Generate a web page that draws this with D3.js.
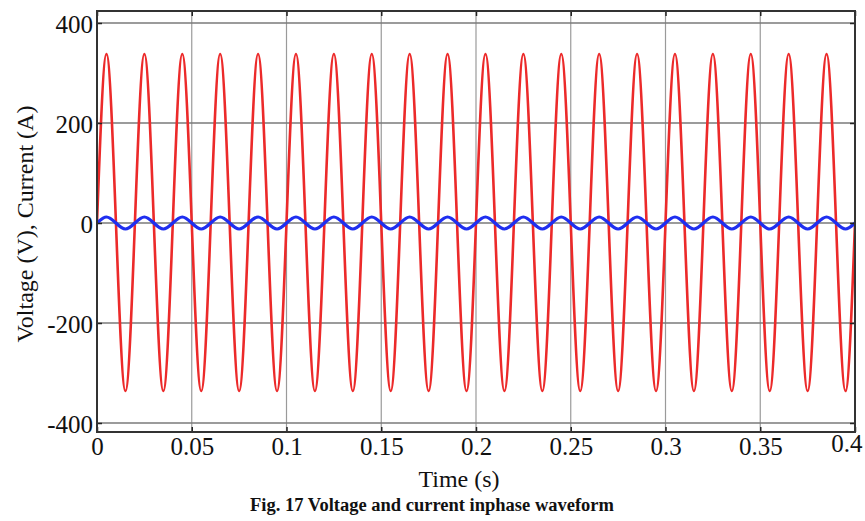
<!DOCTYPE html>
<html>
<head>
<meta charset="utf-8">
<script src="https://cdn.jsdelivr.net/npm/d3@7"></script>
<style>
  body { margin: 0; background: #fff; }
  text { font-family: "Liberation Serif", "Times New Roman", serif; fill: #111; }
</style>
</head>
<body>
<div class="chart"></div>
<script>
// samples at every quarter period (50 Hz)
const time = [
  0, 0.005, 0.01, 0.015, 0.02, 0.025, 0.03, 0.035, 0.04, 0.045,
  0.05, 0.055, 0.06, 0.065, 0.07, 0.075, 0.08, 0.085, 0.09, 0.095,
  0.1, 0.105, 0.11, 0.115, 0.12, 0.125, 0.13, 0.135, 0.14, 0.145,
  0.15, 0.155, 0.16, 0.165, 0.17, 0.175, 0.18, 0.185, 0.19, 0.195,
  0.2, 0.205, 0.21, 0.215, 0.22, 0.225, 0.23, 0.235, 0.24, 0.245,
  0.25, 0.255, 0.26, 0.265, 0.27, 0.275, 0.28, 0.285, 0.29, 0.295,
  0.3, 0.305, 0.31, 0.315, 0.32, 0.325, 0.33, 0.335, 0.34, 0.345,
  0.35, 0.355, 0.36, 0.365, 0.37, 0.375, 0.38, 0.385, 0.39, 0.395,
  0.4
];
const voltage = [
  0, 338, 0, -336, 0, 338, 0, -336, 0, 338,
  0, -336, 0, 338, 0, -336, 0, 338, 0, -336,
  0, 338, 0, -336, 0, 338, 0, -336, 0, 338,
  0, -336, 0, 338, 0, -336, 0, 338, 0, -336,
  0, 338, 0, -336, 0, 338, 0, -336, 0, 338,
  0, -336, 0, 338, 0, -336, 0, 338, 0, -336,
  0, 338, 0, -336, 0, 338, 0, -336, 0, 338,
  0, -336, 0, 338, 0, -336, 0, 338, 0, -336,
  0
];
const current = [
  0, 12, 0, -12, 0, 12, 0, -12, 0, 12,
  0, -12, 0, 12, 0, -12, 0, 12, 0, -12,
  0, 12, 0, -12, 0, 12, 0, -12, 0, 12,
  0, -12, 0, 12, 0, -12, 0, 12, 0, -12,
  0, 12, 0, -12, 0, 12, 0, -12, 0, 12,
  0, -12, 0, 12, 0, -12, 0, 12, 0, -12,
  0, 12, 0, -12, 0, 12, 0, -12, 0, 12,
  0, -12, 0, 12, 0, -12, 0, 12, 0, -12,
  0
];
const xTicks = [0, 0.05, 0.1, 0.15, 0.2, 0.25, 0.3, 0.35, 0.4];
const xTickLabels = ['0', '0.05', '0.1', '0.15', '0.2', '0.25', '0.3', '0.35', '0.4'];
const yTicks = [-400, -200, 0, 200, 400];
const yTickLabels = ['-400', '-200', '0', '200', '400'];

const w = 865;
const h = 521;
const padding = { top: 11, right: 10, bottom: 89, left: 97 };

const xScale = d3.scaleLinear()
  .domain([0, 0.4])
  .range([padding.left, w - padding.right]);
const yScale = d3.scaleLinear()
  .domain([-418, 424])
  .range([h - padding.bottom, padding.top]);

const svg = d3.select('.chart')
  .append('svg')
  .attr('width', w)
  .attr('height', h);

// grid
svg.append('g')
  .attr('class', 'grid-x')
  .selectAll('line')
  .data(xTicks)
  .join('line')
  .attr('x1', (d) => xScale(d))
  .attr('x2', (d) => xScale(d))
  .attr('y1', padding.top)
  .attr('y2', h - padding.bottom)
  .attr('stroke', '#9a9a9a')
  .attr('stroke-width', 1.2);

svg.append('g')
  .attr('class', 'grid-y')
  .selectAll('line')
  .data(yTicks)
  .join('line')
  .attr('x1', padding.left)
  .attr('x2', w - padding.right)
  .attr('y1', (d) => yScale(d))
  .attr('y2', (d) => yScale(d))
  .attr('stroke', '#7a7a7a')
  .attr('stroke-width', 1.4);

const points = time.map((t, i) => ({ t, v: voltage[i], c: current[i] }));

svg.append('clipPath').attr('id', 'plot-clip')
  .append('rect')
  .attr('x', padding.left)
  .attr('y', padding.top)
  .attr('width', w - padding.left - padding.right)
  .attr('height', h - padding.top - padding.bottom);

const vLine = d3.line()
  .x((d) => xScale(d.t))
  .y((d) => yScale(d.v))
  .curve(d3.curveNatural);
const cLine = d3.line()
  .x((d) => xScale(d.t))
  .y((d) => yScale(d.c))
  .curve(d3.curveNatural);

svg.append('path')
  .datum(points)
  .attr('clip-path', 'url(#plot-clip)')
  .attr('fill', 'none')
  .attr('stroke', '#ec2a2a')
  .attr('stroke-width', 2.6)
  .attr('d', vLine);

svg.append('path')
  .datum(points)
  .attr('clip-path', 'url(#plot-clip)')
  .attr('fill', 'none')
  .attr('stroke', '#1f2ff0')
  .attr('stroke-width', 3.2)
  .attr('d', cLine);

// axes
const xAxis = svg.append('g')
  .attr('class', 'x-axis')
  .attr('transform', `translate(0, ${h - padding.bottom})`)
  .call(d3.axisBottom(xScale)
    .tickValues(xTicks)
    .tickFormat((d, i) => xTickLabels[i])
    .tickSizeInner(-5)
    .tickSizeOuter(0)
    .tickPadding(5));

const yAxis = svg.append('g')
  .attr('class', 'y-axis')
  .attr('transform', `translate(${padding.left}, 0)`)
  .call(d3.axisLeft(yScale)
    .tickValues(yTicks)
    .tickFormat((d, i) => yTickLabels[i])
    .tickSizeInner(-5)
    .tickSizeOuter(0)
    .tickPadding(4));

svg.append('g')
  .attr('transform', `translate(0, ${padding.top})`)
  .call(d3.axisTop(xScale).tickValues(xTicks).tickFormat('').tickSizeInner(-5).tickSizeOuter(0));
svg.append('g')
  .attr('transform', `translate(${w - padding.right}, 0)`)
  .call(d3.axisRight(yScale).tickValues(yTicks).tickFormat('').tickSizeInner(-5).tickSizeOuter(0));

svg.selectAll('.domain').remove();
svg.selectAll('.tick line').attr('stroke', '#222').attr('stroke-width', 1.5);

xAxis.selectAll('text')
  .attr('font-size', 25)
  .attr('font-family', '"Liberation Serif", serif')
  .attr('fill', '#111');
// last label sits inside the right edge
xAxis.selectAll('.tick')
  .filter((d) => d === 0.4)
  .select('text')
  .attr('text-anchor', 'end')
  .attr('x', 7)
  .attr('y', 2);

yAxis.selectAll('text')
  .attr('font-size', 25)
  .attr('font-family', '"Liberation Serif", serif')
  .attr('fill', '#111')
  .attr('dy', '0.36em');

// frame
svg.append('rect')
  .attr('x', padding.left)
  .attr('y', padding.top)
  .attr('width', w - padding.left - padding.right)
  .attr('height', h - padding.top - padding.bottom)
  .attr('fill', 'none')
  .attr('stroke', '#333')
  .attr('stroke-width', 2);

// labels
svg.append('text')
  .attr('x', 459)
  .attr('y', 487)
  .attr('text-anchor', 'middle')
  .attr('font-size', 24)
  .text('Time (s)');

svg.append('text')
  .attr('transform', `translate(33, 224) rotate(-90)`)
  .attr('text-anchor', 'middle')
  .attr('font-size', 24)
  .text('Voltage (V), Current (A)');

svg.append('text')
  .attr('x', 432)
  .attr('y', 511)
  .attr('text-anchor', 'middle')
  .attr('font-size', 18.5)
  .attr('font-weight', 'bold')
  .text('Fig. 17 Voltage and current inphase waveform');
</script>
</body>
</html>
